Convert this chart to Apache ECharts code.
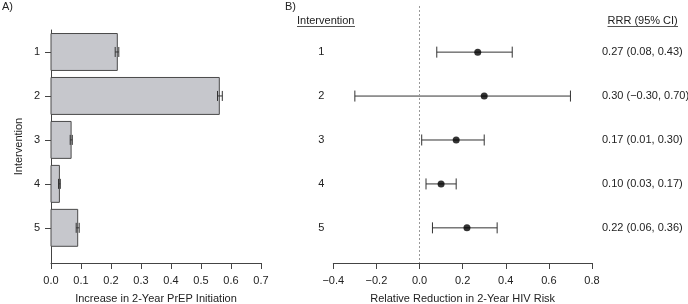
<!DOCTYPE html>
<html><head><meta charset="utf-8">
<script src="https://cdn.jsdelivr.net/npm/echarts@6/dist/echarts.min.js"></script>
<style>html,body{margin:0;padding:0;background:#fff}#c{width:688px;height:304px}</style>
</head><body><div id="c"></div>
<script>
// Panel A data
const interventions = [1, 2, 3, 4, 5];
const prepIncrease = [0.221, 0.561, 0.067, 0.028, 0.089];
const prepLow = [0.214, 0.555, 0.064, 0.025, 0.084];
const prepHigh = [0.226, 0.571, 0.071, 0.031, 0.094];
const xTicksA = [0, 0.1, 0.2, 0.3, 0.4, 0.5, 0.6, 0.7];
// Panel B data
const rrr = [0.27, 0.30, 0.17, 0.10, 0.22];
const rrrLow = [0.08, -0.30, 0.01, 0.03, 0.06];
const rrrHigh = [0.43, 0.70, 0.30, 0.17, 0.36];
const rrrLabels = ['0.27 (0.08, 0.43)', '0.30 (\u22120.30, 0.70)', '0.17 (0.01, 0.30)', '0.10 (0.03, 0.17)', '0.22 (0.06, 0.36)'];
const xTicksB = [-0.4, -0.2, 0, 0.2, 0.4, 0.6, 0.8];

const FONT = 'Liberation Sans, Arial, sans-serif';
const AX = '#444';
const TXT = '#222';

const chart = echarts.init(document.getElementById('c'), null, {renderer: 'canvas'});

const barData = interventions.map((c, i) => [prepIncrease[i], c, prepLow[i], prepHigh[i]]);
const forestData = interventions.map((c, i) => [rrr[i], c, rrrLow[i], rrrHigh[i]]);

function fmtNum(v) { return (v < 0 ? '\u2212' : '') + Math.abs(v).toFixed(1); }

const baseLabel = {color: TXT, fontFamily: FONT, fontSize: 11};

chart.setOption({
  animation: false,
  textStyle: {fontFamily: FONT},
  graphic: [
    {type: 'text', left: 2, top: 1, style: {text: 'A)', font: '11px ' + FONT, fill: TXT}},
    {type: 'text', left: 285, top: 1, style: {text: 'B)', font: '11px ' + FONT, fill: TXT}},
    {type: 'text', left: 297, top: 15, style: {text: 'Intervention', font: '11px ' + FONT, fill: TXT}},
    {type: 'line', shape: {x1: 297, y1: 26.5, x2: 355, y2: 26.5}, style: {stroke: '#555', lineWidth: 1}},
    {type: 'text', left: 607.5, top: 15, style: {text: 'RRR (95% CI)', font: '11px ' + FONT, fill: TXT}},
    {type: 'line', shape: {x1: 607.5, y1: 26.5, x2: 678, y2: 26.5}, style: {stroke: '#555', lineWidth: 1}}
  ],
  grid: [
    {left: 51, top: 30, width: 210, height: 233, containLabel: false, outerBoundsMode: 'none'},
    {left: 333.3, top: 6, width: 258.7, height: 257, containLabel: false, outerBoundsMode: 'none'}
  ],
  xAxis: [
    {
      gridIndex: 0, type: 'value', min: 0, max: 0.7, interval: 0.1,
      splitLine: {show: false},
      axisLine: {onZero: false, lineStyle: {color: AX, width: 1}},
      axisTick: {show: true, length: 6, lineStyle: {color: AX}},
      axisLabel: Object.assign({}, baseLabel, {margin: 12, formatter: v => fmtNum(v)}),
      name: 'Increase in 2-Year PrEP Initiation', nameLocation: 'middle', nameGap: 30,
      nameTextStyle: baseLabel
    },
    {
      gridIndex: 1, type: 'value', min: -0.4, max: 0.8, interval: 0.2,
      splitLine: {show: false},
      axisLine: {onZero: false, lineStyle: {color: AX, width: 1}},
      axisTick: {show: true, length: 6, lineStyle: {color: AX}},
      axisLabel: Object.assign({}, baseLabel, {margin: 12, formatter: v => fmtNum(v)}),
      name: 'Relative Reduction in 2-Year HIV Risk', nameLocation: 'middle', nameGap: 30,
      nameTextStyle: baseLabel
    }
  ],
  yAxis: [
    {
      gridIndex: 0, type: 'value', min: 0.5, max: 5.8, inverse: true,
      splitLine: {show: false},
      axisLine: {show: true, onZero: false, lineStyle: {color: AX, width: 1}},
      axisTick: {show: true, length: 6, customValues: interventions, lineStyle: {color: AX}},
      axisLabel: Object.assign({}, baseLabel, {margin: 11, customValues: interventions, formatter: v => String(v)}),
      name: 'Intervention', nameLocation: 'middle', nameGap: 27, nameRotate: 90,
      nameTextStyle: baseLabel
    },
    {
      gridIndex: 1, type: 'value', min: -0.05, max: 5.8, inverse: true,
      splitLine: {show: false},
      axisLine: {show: false, onZero: false},
      axisTick: {show: false},
      axisLabel: Object.assign({}, baseLabel, {margin: 9, customValues: interventions, formatter: v => String(v)})
    },
    {
      gridIndex: 1, type: 'value', position: 'right', min: -0.05, max: 5.8, inverse: true,
      splitLine: {show: false},
      axisLine: {show: false, onZero: false},
      axisTick: {show: false},
      axisLabel: Object.assign({}, baseLabel, {margin: 10, customValues: interventions, formatter: v => rrrLabels[v - 1]})
    }
  ],
  series: [
    {
      type: 'custom', xAxisIndex: 0, yAxisIndex: 0, data: barData,
      encode: {x: 0, y: 1},
      renderItem: function (params, api) {
        const v = api.value(0), c = api.value(1), lo = api.value(2), hi = api.value(3);
        const p0 = api.coord([0, c]);
        const p1 = api.coord([v, c]);
        const h = api.size([0, 0.84])[1];
        const pl = api.coord([lo, c]);
        const ph = api.coord([hi, c]);
        const cap = 5;
        return {
          type: 'group',
          children: [
            {type: 'rect', shape: {x: p0[0], y: p0[1] - h / 2, width: p1[0] - p0[0], height: h},
              style: {fill: '#c6c7cc', stroke: '#4a4a4a', lineWidth: 1}},
            {type: 'line', shape: {x1: pl[0], y1: pl[1], x2: ph[0], y2: ph[1]}, style: {stroke: '#333', lineWidth: 1}},
            {type: 'line', shape: {x1: pl[0], y1: pl[1] - cap, x2: pl[0], y2: pl[1] + cap}, style: {stroke: '#333', lineWidth: 1}},
            {type: 'line', shape: {x1: ph[0], y1: ph[1] - cap, x2: ph[0], y2: ph[1] + cap}, style: {stroke: '#333', lineWidth: 1}}
          ]
        };
      }
    },
    {
      type: 'custom', xAxisIndex: 1, yAxisIndex: 1, data: forestData,
      encode: {x: 0, y: 1},
      renderItem: function (params, api) {
        const c = api.value(1), lo = api.value(2), hi = api.value(3);
        const pl = api.coord([lo, c]);
        const ph = api.coord([hi, c]);
        const cap = 5.5;
        return {
          type: 'group',
          children: [
            {type: 'line', shape: {x1: pl[0], y1: pl[1], x2: ph[0], y2: ph[1]}, style: {stroke: '#333', lineWidth: 1}},
            {type: 'line', shape: {x1: pl[0], y1: pl[1] - cap, x2: pl[0], y2: pl[1] + cap}, style: {stroke: '#333', lineWidth: 1}},
            {type: 'line', shape: {x1: ph[0], y1: ph[1] - cap, x2: ph[0], y2: ph[1] + cap}, style: {stroke: '#333', lineWidth: 1}}
          ]
        };
      },
      markLine: {
        silent: true, symbol: 'none', label: {show: false},
        lineStyle: {color: '#999', type: [2, 2], width: 1},
        data: [{xAxis: 0}]
      }
    },
    {
      type: 'scatter', xAxisIndex: 1, yAxisIndex: 1,
      data: forestData.map(d => [d[0], d[1]]),
      symbol: 'circle', symbolSize: 7,
      itemStyle: {color: '#000'}
    }
  ]
});
</script>
</body></html>
